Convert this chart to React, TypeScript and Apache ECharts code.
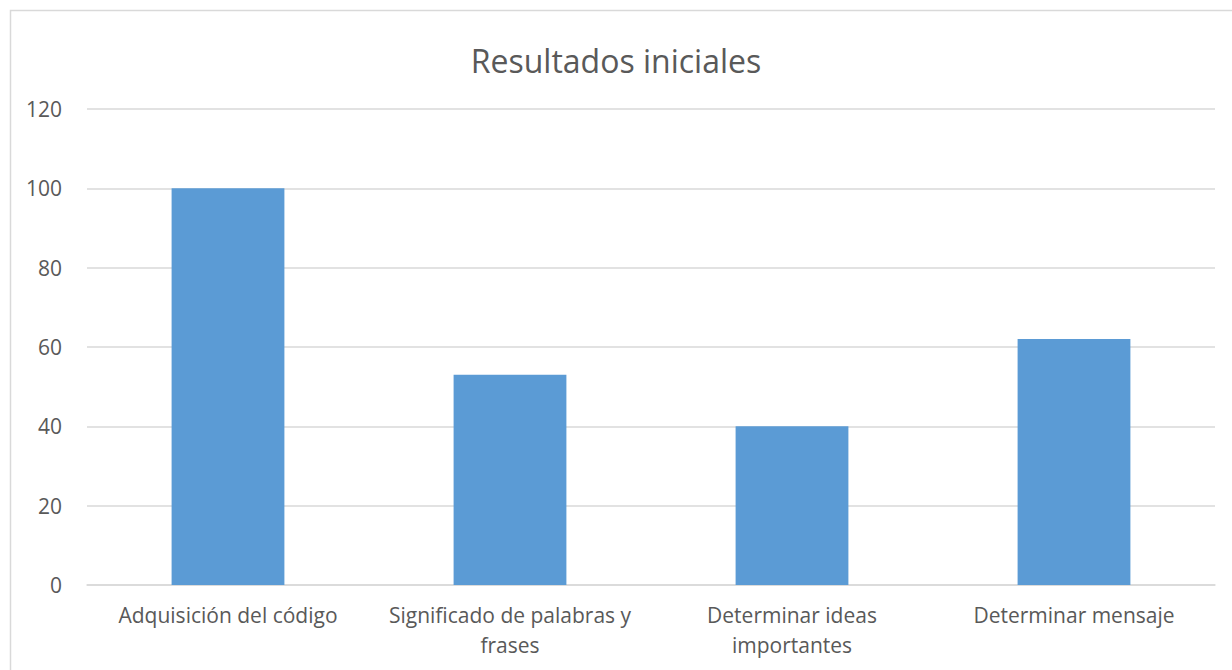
import React, { useEffect, useRef } from "react";
import * as echarts from "echarts";

const TITLE = "Resultados iniciales";
const categories = [
  "Adquisición del código",
  "Significado de palabras y\nfrases",
  "Determinar ideas\nimportantes",
  "Determinar mensaje",
];
const values = [100, 53, 40, 62];
const yMin = 0;
const yMax = 120;
const yInterval = 20;

const FONT = "'Open Sans', 'Noto Sans', sans-serif";
const TEXT = "#595959";
const GRID = "#D9D9D9";
const BAR = "#5B9BD5";

export default function App() {
  const ref = useRef<HTMLDivElement>(null);
  useEffect(() => {
    if (!ref.current) return;
    const chart = echarts.init(ref.current, null, { renderer: "svg" });
    chart.setOption({
      animation: false,
      backgroundColor: "#ffffff",
      title: {
        text: TITLE,
        left: "center",
        top: 35,
        textStyle: {
          fontFamily: FONT,
          fontSize: 32,
          lineHeight: 40,
          fontWeight: "normal",
          color: TEXT,
        },
      },
      graphic: [
        {
          type: "rect",
          shape: { x: 10.5, y: 10.5, width: 1240, height: 680 },
          style: { fill: "none", stroke: GRID, lineWidth: 1.5 },
          silent: true,
        },
      ],
      grid: { left: 87, right: 17, top: 109, bottom: 85, containLabel: false },
      xAxis: {
        type: "category",
        data: categories,
        axisLine: { show: true, lineStyle: { color: GRID, width: 1.5 } },
        axisTick: { show: false },
        axisLabel: {
          color: TEXT,
          fontFamily: FONT,
          fontSize: 21,
          lineHeight: 30,
          margin: 15,
          interval: 0,
        },
      },
      yAxis: {
        type: "value",
        min: yMin,
        max: yMax,
        interval: yInterval,
        axisLine: { show: false },
        axisTick: { show: false },
        splitLine: { lineStyle: { color: GRID, width: 1.5 } },
        axisLabel: { color: TEXT, fontFamily: FONT, fontSize: 21, margin: 25 },
      },
      series: [
        {
          type: "bar",
          data: values,
          barWidth: "40%",
          itemStyle: { color: BAR },
        },
      ],
    });
    return () => chart.dispose();
  }, []);
  return (
    <div
      ref={ref}
      style={{ position: "absolute", left: 0, top: 0, width: 1232, height: 670 }}
    />
  );
}
